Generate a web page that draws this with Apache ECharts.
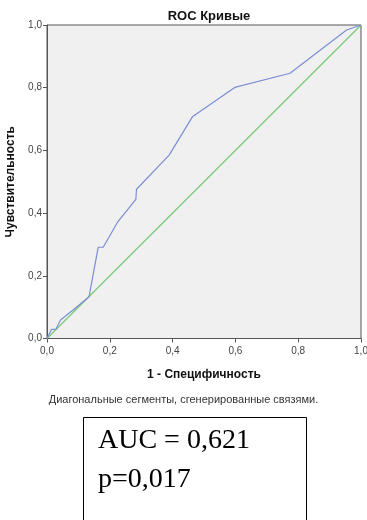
<!DOCTYPE html>
<html><head><meta charset="utf-8">
<script src="https://cdn.jsdelivr.net/npm/echarts@6/dist/echarts.min.js"></script>
<style>html,body{margin:0;padding:0;background:#fff}#c{width:367px;height:520px}</style>
</head><body><div id="c"></div>
<script>
var title = 'ROC Кривые';
var xName = '1 - Специфичность';
var yName = 'Чувствительность';
var footnote = 'Диагональные сегменты, сгенерированные связями.';
var statLines = ['AUC = 0,621', 'p=0,017'];
var rocX = [0, 0.014, 0.028, 0.043, 0.083, 0.134, 0.137, 0.163, 0.179, 0.226, 0.283, 0.285, 0.389, 0.463, 0.598, 0.774, 0.954, 1];
var rocY = [0, 0.029, 0.029, 0.059, 0.091, 0.133, 0.150, 0.291, 0.291, 0.373, 0.444, 0.476, 0.585, 0.707, 0.801, 0.846, 0.984, 1];
var refX = [0, 1];
var refY = [0, 1];

function pairs(a, b){ return a.map(function(v,i){ return [v, b[i]]; }); }
function fmt(v){ return v.toFixed(1).replace('.', ','); }

var chart = echarts.init(document.getElementById('c'));
var axisCommon = {
  type: 'value', min: 0, max: 1, interval: 0.2,
  axisLine: {show: true, lineStyle: {color: '#555', width: 1}},
  axisTick: {show: true, length: 4, lineStyle: {color: '#555'}},
  splitLine: {show: false},
  axisLabel: {color: '#444', fontFamily: 'Liberation Sans, Arial', fontSize: 10, formatter: fmt},
  nameLocation: 'middle',
  nameTextStyle: {color: '#111', fontFamily: 'Liberation Sans, Arial', fontSize: 12, fontWeight: 'bold'}
};
chart.setOption({
  animation: false,
  title: {text: title, left: 204, textAlign: 'center', top: 5,
    textStyle: {fontFamily: 'Liberation Sans, Arial', fontSize: 13, fontWeight: 'bold', color: '#111'}},
  grid: {left: 47, right: 6, top: 25, bottom: 181.5, show: true, backgroundColor: '#f0f0f0', borderColor: '#555', borderWidth: 1, containLabel: false, outerBoundsMode: 'none'},
  xAxis: Object.assign({}, axisCommon, {name: xName, nameGap: 30, axisLabel: Object.assign({}, axisCommon.axisLabel, {margin: 8})}),
  yAxis: Object.assign({}, axisCommon, {name: yName, nameGap: 30, axisLabel: Object.assign({}, axisCommon.axisLabel, {margin: 5})}),
  series: [
    {type: 'line', data: pairs(refX, refY), symbol: 'none', lineStyle: {color: '#78c878', width: 1.2}},
    {type: 'line', data: pairs(rocX, rocY), symbol: 'none', lineStyle: {color: '#7b8ed4', width: 1.2}}
  ],
  graphic: [
    {type: 'text', left: 'center', top: 394, style: {text: footnote, fontFamily: 'Liberation Sans, Arial', fontSize: 11, fill: '#333'}},
    {type: 'rect', shape: {x: 83.5, y: 417.5, width: 223, height: 130}, style: {fill: '#fff', stroke: '#000', lineWidth: 1}},
    {type: 'text', left: 98, top: 427, style: {text: statLines[0], fontFamily: 'Liberation Serif, Times New Roman', fontSize: 28, fill: '#000'}},
    {type: 'text', left: 98, top: 466, style: {text: statLines[1], fontFamily: 'Liberation Serif, Times New Roman', fontSize: 28, fill: '#000'}}
  ]
});
</script></body></html>
